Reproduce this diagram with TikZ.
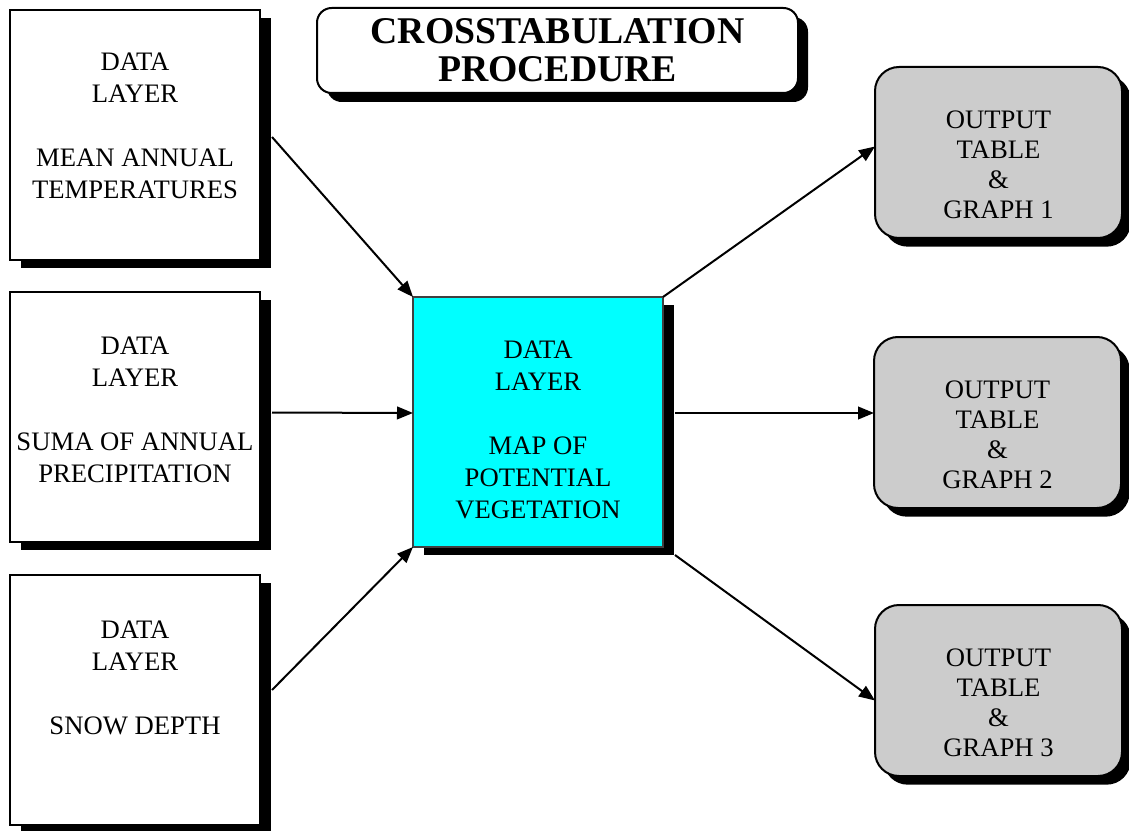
\documentclass[tikz,border=0pt]{standalone}
\usepackage{fontspec}
\setmainfont{Liberation Serif}
\usetikzlibrary{calc,arrows.meta,shadows}
\definecolor{outgray}{RGB}{204,204,204}
\definecolor{centcyan}{RGB}{0,255,255}
\begin{document}
\begin{tikzpicture}[x=0.75pt,y=-0.75pt,
  shadowed/.style={drop shadow={shadow xshift=8.25pt,shadow yshift=-6pt,opacity=1,fill=black}},
  lbox/.style={draw,line width=1.5pt,fill=white,inner sep=0pt,outer sep=0pt,
    minimum width=187.5pt,minimum height=187.5pt,anchor=north west,shadowed},
  cbox/.style={draw=black!75,line width=1pt,fill=centcyan,inner sep=0pt,outer sep=0pt,
    minimum width=187.5pt,minimum height=187.5pt,anchor=north west,shadowed},
  rbox/.style={draw,line width=1.5pt,fill=outgray,rounded corners=18pt,inner sep=0pt,outer sep=0pt,
    minimum width=185.25pt,minimum height=128.25pt,anchor=north west,
    drop shadow={shadow xshift=6.5pt,shadow yshift=-6.5pt,opacity=1,fill=black}},
  tbox/.style={draw,line width=1.5pt,fill=white,rounded corners=11pt,inner sep=0pt,outer sep=0pt,
    minimum width=360.75pt,minimum height=63.75pt,anchor=north west,align=center,
    font=\bfseries\fontsize{28.3pt}{28.5pt}\selectfont,
    drop shadow={shadow xshift=7.5pt,shadow yshift=-6.75pt,opacity=1,fill=black}},
  txt/.style={inner sep=0pt,align=center,anchor=north,font=\fontsize{20pt}{24pt}\selectfont},
  rtxt/.style={inner sep=0pt,align=center,anchor=north,font=\fontsize{20pt}{22.5pt}\selectfont},
  arr/.style={line width=1.5pt,-{Triangle[length=12pt,width=9.5pt]}}
]
\useasboundingbox (0,0) rectangle (1129,831);

% title
\node[tbox] (T) at (317,8) {CROSSTABULATION\\PROCEDURE};

% left boxes
\node[lbox] (L1) at (10,10) {};
\node[lbox] (L2) at (10,292) {};
\node[lbox] (L3) at (10,575) {};
\node[txt] (L1t) at ($(L1.north)+(0,43)$) {DATA\\LAYER\\[24pt]MEAN ANNUAL\\TEMPERATURES};
\node[txt] (L2t) at ($(L2.north)+(0,45)$) {DATA\\LAYER\\[24pt]SUMA OF ANNUAL\\PRECIPITATION};
\node[txt] (L3t) at ($(L3.north)+(0,46)$) {DATA\\LAYER\\[24pt]SNOW DEPTH};

% center box
\node[cbox] (C) at (413,297) {};
\node[txt] (Ct) at ($(C.north)+(0,44)$) {DATA\\LAYER\\[24pt]MAP OF\\POTENTIAL\\VEGETATION};

% right boxes
\node[rbox] (R1) at (875,67) {};
\node[rbox] (R2) at (874,337) {};
\node[rbox] (R3) at (875,605) {};
\node[rtxt] (R1t) at ($(R1.north)+(0,44)$) {OUTPUT\\TABLE\\\&\\GRAPH 1};
\node[rtxt] (R2t) at ($(R2.north)+(0,44)$) {OUTPUT\\TABLE\\\&\\GRAPH 2};
\node[rtxt] (R3t) at ($(R3.north)+(0,44)$) {OUTPUT\\TABLE\\\&\\GRAPH 3};

% connectors
\draw[arr] ($(L1.east)+(12,2)$) -- (C.north west);
\draw[arr] ($(L2.east)+(12,-4.5)$) -- ($(C.west)+(0,-9)$);
\draw[arr] ($(L3.east)+(12,-10)$) -- (C.south west);
\draw[arr] (C.north east) -- ($(R1.west)+(0,-6)$);
\draw[arr] ($(C.east)+(12,-9)$) -- ($(R2.west)+(0,-9.5)$);
\draw[arr] ($(C.south east)+(12,8)$) -- ($(R3.west)+(0,10)$);
\end{tikzpicture}
\end{document}
